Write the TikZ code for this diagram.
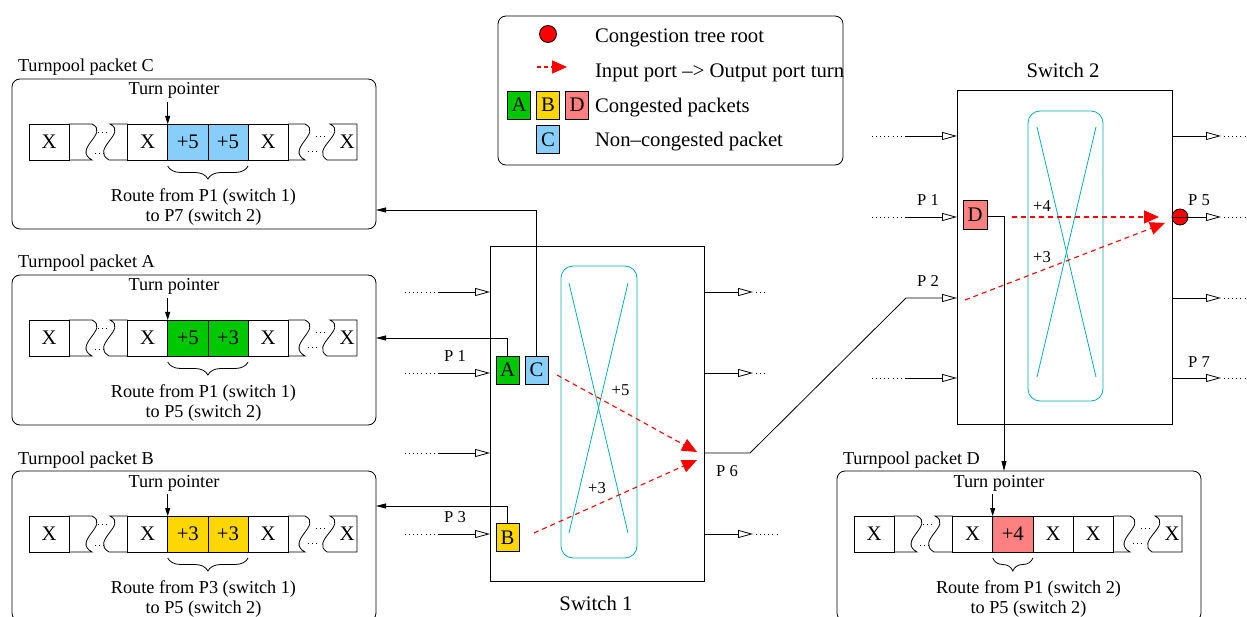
\documentclass[tikz,border=0pt]{standalone}
\usepackage{fontspec}
\setmainfont{Liberation Serif}
\usetikzlibrary{arrows.meta,decorations.pathreplacing,calc}
\definecolor{cgreen}{RGB}{0,200,0}
\definecolor{cyellow}{RGB}{255,215,0}
\definecolor{cpink}{RGB}{255,128,128}
\definecolor{cblue}{RGB}{135,206,250}
\definecolor{cteal}{RGB}{0,178,178}
\definecolor{cred}{RGB}{255,0,0}
\newcommand\bigfnt{\fontsize{20.7}{24}\selectfont}
\newcommand\medfnt{\fontsize{18.2}{21.3}\selectfont}
\newcommand\smlfnt{\fontsize{16.6}{19}\selectfont}
\tikzset{
 every node/.style={inner sep=0pt, outer sep=0pt},
 cell/.style={draw, minimum width=40.2pt, minimum height=36pt, font=\bigfnt},
 lbox/.style={draw, minimum width=23pt, minimum height=28pt, font=\bigfnt},
 pbox/.style={draw, rounded corners=8pt, minimum width=364pt, minimum height=150pt},
 xbar/.style={draw=cteal, rounded corners=12pt},
 port/.style={-{Triangle[open,length=15pt,width=8pt]}},
 dotline/.style={dash pattern=on 0.9pt off 3.2pt},
 conn/.style={-{Triangle[length=10pt,width=5pt]}},
 tparrow/.style={-{Triangle[length=8pt,width=5pt]}},
 turn/.style={cred, line width=1.1pt, dash pattern=on 5pt off 4pt, -{Triangle[length=15pt,width=13pt]}},
 plabel/.style={font=\smlfnt, anchor=base},
}
\newcommand\turnpool[9]{%
 \node[pbox] (#1) at (194,154) {};
 \node[font=\medfnt, anchor=base west] (#1-t) at (18,72) {Turnpool packet #2};
 \node[font=\medfnt, anchor=base] (#1-p) at (174,95) {Turn pointer};
 \node[cell] (#1-c0) at (49.1,142) {X};
 \draw (69.2,124) -- (92,124) .. controls (110,133) and (72,149) .. (92,160) -- (69.2,160);
 \draw[dotline] (98,132) -- (109,132);
 \draw[dotline] (95,153) -- (104,153);
 \draw (127.5,124) -- (110,124) .. controls (128,133) and (90,149) .. (109,160) -- (127.5,160);
 \node[cell] (#1-c1) at (147.6,142) {X};
 \node[cell, fill=#3] (#1-c2) at (187.8,142) {#4};
 \node[cell, fill=#5] (#1-c3) at (228.0,142) {#6};
 \node[cell] (#1-c4) at (268.2,142) {X};
 \draw (288.3,124) -- (305,124) .. controls (323,133) and (285,149) .. (305,160) -- (288.3,160);
 \draw[dotline] (316,136) -- (327,136);
 \draw[dotline] (308,151) -- (319,151);
 \draw (330,124) .. controls (348,133) and (310,149) .. (327,160) -- (357,160) -- (357,124) -- cycle;
 \node[font=\bigfnt] (#1-cx) at (347,142) {X};
 \draw[tparrow] ([yshift=22pt]#1-c2.north west) -- (#1-c2.north west);
 \draw[decorate, decoration={brace, mirror, amplitude=13pt}] ([yshift=-6pt]#1-c2.south west) -- ([yshift=-6pt]#1-#7.south east);
 \node[font=\medfnt, anchor=base] at (203.5,201.5) {#8};
 \node[font=\medfnt, anchor=base] at (203.5,221.5) {#9};
}
\begin{document}
\begin{tikzpicture}[x=1pt, y=-1pt, line width=0.8pt]
\clip (0,0) rectangle (1247,617);
\fill[white] (0,0) rectangle (1247,617);

% turnpool packets
\begin{scope}
\turnpool{pC}{C}{cblue}{+5}{cblue}{+5}{c3}{Route from P1 (switch 1)}{to P7 (switch 2)}
\end{scope}
\begin{scope}[shift={(0,196)}]
\turnpool{pA}{A}{cgreen}{+5}{cgreen}{+3}{c3}{Route from P1 (switch 1)}{to P5 (switch 2)}
\end{scope}
\begin{scope}[shift={(0,392)}]
\turnpool{pB}{B}{cyellow}{+3}{cyellow}{+3}{c3}{Route from P3 (switch 1)}{to P5 (switch 2)}
\end{scope}
\begin{scope}[shift={(825,392)}]
\turnpool{pD}{D}{cpink}{+4}{white}{X}{c2}{Route from P1 (switch 2)}{to P5 (switch 2)}
\end{scope}

% legend
\node[draw, rounded corners=8pt, minimum width=345pt, minimum height=149pt] (legend) at (670.5,90.5) {};
\node[circle, draw, fill=cred, minimum size=17pt] (legroot) at (548,34) {};
\coordinate (legs) at (537,67);
\coordinate (lege) at (567,67);
\draw[turn, dash pattern=on 3.5pt off 3.5pt] (legs) -- (lege);
\node[lbox, fill=cgreen] (legA) at (519,105) {A};
\node[lbox, fill=cyellow] (legB) at (548,105) {B};
\node[lbox, fill=cpink] (legD) at (577,105) {D};
\node[lbox, fill=cblue] (legC) at (548,139.5) {C};
\node[font=\bigfnt, anchor=base west] (lt1) at (595,43) {Congestion tree root};
\node[font=\bigfnt, anchor=base west] (lt2) at (595,78) {Input port –> Output port turn};
\node[font=\bigfnt, anchor=base west] (lt3) at (595,113) {Congested packets};
\node[font=\bigfnt, anchor=base west] (lt4) at (595,147) {Non–congested packet};

% switch 1
\node[draw, minimum width=214pt, minimum height=335pt] (sw1) at (597,413.5) {};
\node[font=\bigfnt, anchor=base] (sw1l) at (596,610) {Switch 1};
\node[xbar, minimum width=76pt, minimum height=292pt] (xb1) at (599,412) {};
\draw[cteal] (569,283) -- (628,533);
\draw[cteal] (628,283) -- (569,533);
\foreach \y in {292,373,453,534} {
  \draw[dotline] (405,\y) -- (438,\y);
  \draw[port] (438,\y) -- (490,\y);
}
\foreach \y/\e in {292/766,373/766,534/777} {
  \draw[port] (704,\y) -- (753,\y);
  \draw[dotline] (756,\y) -- (\e,\y);
}
\node[lbox, fill=cgreen] (lA) at (507.5,370) {A};
\node[lbox, fill=cblue] (lC) at (536.5,370) {C};
\node[lbox, fill=cyellow] (lB) at (507.5,537.5) {B};
\node[plabel] (s1p1) at (455,362) {P 1};
\node[plabel] (s1p3) at (455,522) {P 3};
\node[plabel] (s1p6) at (727,476) {P 6};
\node[plabel] (s1t5) at (620.5,395) {+5};
\node[plabel] (s1t3) at (597,493) {+3};
\draw[turn] (557,375) -- (697,452);
\draw[turn] (534,533) -- (697,460);

% switch 2
\node[draw, minimum width=215pt, minimum height=334pt] (sw2) at (1064.5,257) {};
\node[font=\bigfnt, anchor=base] (sw2l) at (1063,78) {Switch 2};
\node[xbar, minimum width=75pt, minimum height=290pt] (xb2) at (1065.5,256) {};
\draw[cteal] (1037,127) -- (1096,377);
\draw[cteal] (1096,127) -- (1037,377);
\foreach \y in {136,217,378} {
  \draw[dotline] (872,\y) -- (906,\y);
  \draw[port] (906,\y) -- (957,\y);
}
\node[circle, draw, fill=cred, minimum size=16pt] (root) at (1180,217) {};
\foreach \y in {136,217,298,378} {
  \draw[port] (1172,\y) -- (1221,\y);
  \draw[dotline] (1224,\y) -- (1247,\y);
}
\node[lbox, fill=cpink, minimum width=24pt, minimum height=29pt] (lD) at (975,214.5) {D};
\node[plabel] (s2p1) at (928,206) {P 1};
\node[plabel] (s2p2) at (928,287) {P 2};
\node[plabel] (s2p5) at (1199,206) {P 5};
\node[plabel] (s2p7) at (1199,367) {P 7};
\node[plabel] (s2t4) at (1042,212) {+4};
\node[plabel] (s2t3) at (1042,263) {+3};
\draw[turn] (1012,217) -- (1159,217);
\draw[turn] (965,300) -- (1165,223);

% link P6 -> P2
\draw[port] ([yshift=-39.5pt]sw1.east) -- ++(46,0) -- (906,298) -- ([yshift=-41pt]sw2.west);

% packet connectors
\draw[conn] (lC.north) |- ([yshift=-56pt]pC.east);
\draw[conn] (lA.north) |- ([yshift=12pt]pA.east);
\draw[conn] (lB.north) |- ([yshift=40pt]pB.east);
\draw[conn] ([yshift=-2pt]lD.east) -| ([xshift=-15pt]pD.north);
\end{tikzpicture}
\end{document}
